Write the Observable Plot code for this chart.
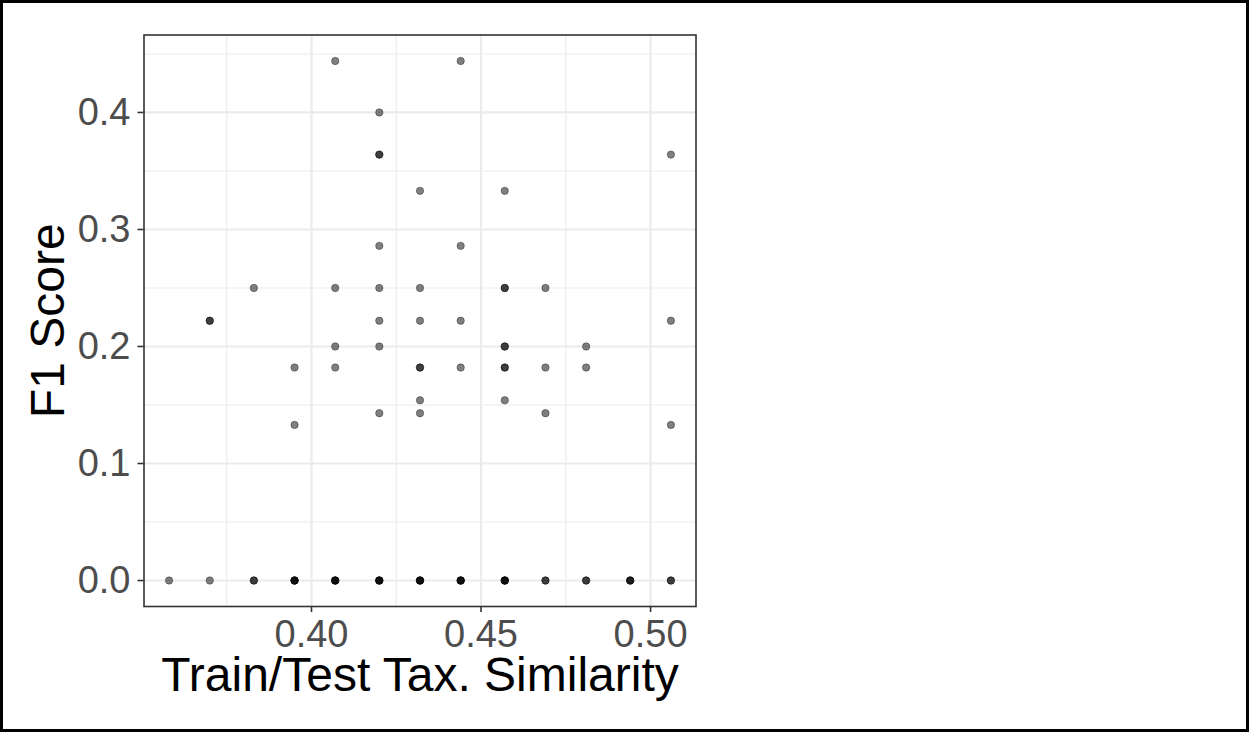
<!DOCTYPE html>
<html>
<head>
<meta charset="utf-8">
<script src="https://cdn.jsdelivr.net/npm/d3@7"></script>
<script src="https://cdn.jsdelivr.net/npm/@observablehq/plot@0.6"></script>
<style>
  html, body { margin: 0; padding: 0; background: #fff; }
  #chart { position: relative; width: 1249px; height: 732px; overflow: hidden; }
  #chart svg { display: block; }
  #frame { position: absolute; left: 0; top: 0; width: 1249px; height: 732px; box-sizing: border-box; border: 3px solid #000; pointer-events: none; }
</style>
</head>
<body>
<div id="chart"><div id="frame"></div></div>
<script>
// Train/test taxonomic similarity (x) and F1 score (y); n = number of overlapping points
const similarity = [0.358, 0.370, 0.370, 0.383, 0.383, 0.395, 0.395, 0.395,
  0.407, 0.407, 0.407, 0.407, 0.407,
  0.420, 0.420, 0.420, 0.420, 0.420, 0.420, 0.420, 0.420, 0.420,
  0.432, 0.432, 0.432, 0.432, 0.432, 0.432, 0.432, 0.432,
  0.444, 0.444, 0.444, 0.444, 0.444,
  0.457, 0.457, 0.457, 0.457, 0.457, 0.457, 0.457,
  0.469, 0.469, 0.469, 0.469,
  0.481, 0.481, 0.481,
  0.494,
  0.506, 0.506, 0.506, 0.506];
const f1Score = [0, 0.222, 0, 0.25, 0, 0.182, 0.133, 0,
  0.444, 0.25, 0.2, 0.182, 0,
  0.4, 0.364, 0.286, 0.25, 0.222, 0.2, 0.143, 0, 0,
  0.333, 0.25, 0.222, 0.182, 0.154, 0.143, 0, 0,
  0.444, 0.286, 0.222, 0.182, 0,
  0.333, 0.25, 0.2, 0.182, 0.154, 0, 0,
  0.25, 0.182, 0.143, 0,
  0.2, 0.182, 0,
  0,
  0.364, 0.222, 0.133, 0];
const n = [1, 2, 1, 1, 2, 1, 1, 4,
  1, 1, 1, 1, 4,
  1, 2, 1, 1, 1, 1, 1, 2, 2,
  1, 1, 1, 2, 1, 1, 2, 2,
  1, 1, 1, 1, 4,
  1, 2, 2, 2, 1, 2, 2,
  1, 1, 1, 2,
  1, 1, 2,
  3,
  1, 1, 1, 2];

const xTicks = [0.40, 0.45, 0.50];
const xMinor = [0.375, 0.425, 0.475];
const yTicks = [0, 0.1, 0.2, 0.3, 0.4];
const yMinor = [0.05, 0.15, 0.25, 0.35, 0.45];
const xTitle = "Train/Test Tax. Similarity";
const yTitle = "F1 Score";

const rows = [];
similarity.forEach((s, i) => {
  for (let k = 0; k < n[i]; k++) rows.push({similarity: s, f1: f1Score[i]});
});

const xMin = d3.min(similarity), xMax = d3.max(similarity);
const yMin = d3.min(f1Score), yMax = d3.max(f1Score);
const xPad = (xMax - xMin) * 0.05, yPad = (yMax - yMin) * 0.05;

const chart = Plot.plot({
  width: 1249,
  height: 732,
  marginLeft: 143.5,
  marginRight: 553.5,
  marginTop: 34.5,
  marginBottom: 126,
  style: {fontFamily: "'Liberation Sans', Arial, sans-serif", fontSize: "38px", background: "#fff"},
  x: {domain: [xMin - xPad, xMax + xPad]},
  y: {domain: [yMin - yPad, yMax + yPad]},
  marks: [
    Plot.gridX(xMinor, {stroke: "#ebebeb", strokeOpacity: 1, strokeWidth: 1.1}),
    Plot.gridY(yMinor, {stroke: "#ebebeb", strokeOpacity: 1, strokeWidth: 1.1}),
    Plot.gridX(xTicks, {stroke: "#ebebeb", strokeOpacity: 1, strokeWidth: 2.2}),
    Plot.gridY(yTicks, {stroke: "#ebebeb", strokeOpacity: 1, strokeWidth: 2.2}),
    Plot.dot(rows, {x: "similarity", y: "f1", r: 3.7, fill: "#000", fillOpacity: 0.5, stroke: "#000", strokeOpacity: 0.35, strokeWidth: 1}),
    Plot.frame({stroke: "#333", strokeWidth: 1.6}),
    Plot.axisX(xTicks, {tickFormat: d3.format(".2f"), tickSize: 6, tickPadding: 8, stroke: "#333", strokeWidth: 1.6, fill: "#4d4d4d", fontSize: 38, label: null}),
    Plot.axisY(yTicks, {tickFormat: d3.format(".1f"), tickSize: 6, tickPadding: 7.5, stroke: "#333", strokeWidth: 1.6, fill: "#4d4d4d", fontSize: 38, label: null}),
    Plot.text([xTitle], {frameAnchor: "bottom", dy: 84, lineAnchor: "bottom", textAnchor: "middle", fontSize: 48, fill: "#000"}),
    Plot.text([yTitle], {frameAnchor: "left", dx: -80.5, rotate: -90, lineAnchor: "bottom", textAnchor: "middle", fontSize: 48, fill: "#000"})
  ]
});
document.getElementById("chart").prepend(chart);
</script>
</body>
</html>
